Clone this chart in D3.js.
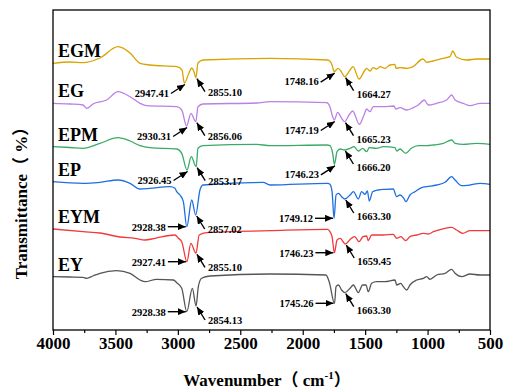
<!DOCTYPE html>
<html>
<head>
<meta charset="utf-8">
<script src="https://cdn.jsdelivr.net/npm/d3@7"></script>
<style>
  body { margin: 0; background: #fff; }
  svg text { font-family: "Liberation Serif", "Times New Roman", "Noto Sans CJK SC", serif; font-weight: bold; }
</style>
</head>
<body>
<script>
// FTIR spectra, [wavenumber cm-1, transmittance (a.u., offset)]
const egm = [[4000,266.7],[3864,268],[3760,267.3],[3624,272],[3479,283.3],[3383,277],[3303,266.7],[3223,265],[3007,263.3],[2967,260],[2947.41,247],[2911,257],[2889,262],[2871,258.3],[2855.10,252.3],[2839,267],[2799,270],[2262,271.7],[1798,270],[1765,265],[1748.16,258.3],[1717,261.7],[1688,257.7],[1664.27,253.3],[1621,260],[1597,263.3],[1549,251],[1501,260],[1488,261.7],[1461,259],[1437,262.3],[1407,261],[1381,263.3],[1341,261.7],[1301,265],[1261,265.7],[1253,261.7],[1221,262.3],[1167,261.7],[1117,263.3],[1037,271],[1007,267.7],[957,269],[877,271.7],[820,273.3],[799,279],[767,272.7],[687,270],[607,271],[500,271]]
const eg = [[4000,226.7],[3864,226],[3760,225],[3730,221.7],[3680,226],[3570,230],[3479,238.3],[3383,233.3],[3303,226.7],[3250,224.3],[3009,223.3],[2969,220],[2930.31,204],[2895,216.7],[2856.06,208.3],[2839,223.3],[2799,226],[2369,227],[2262,228.3],[1808,227.3],[1782,223.3],[1760,213.3],[1747.19,210],[1720,217.7],[1688,211.7],[1665.23,208.3],[1629,215],[1600,219],[1547,205.7],[1509,215],[1488,221],[1461,218.3],[1435,223.3],[1355,223.3],[1269,224],[1255,221],[1221,222.3],[1167,220],[1114,222.3],[1074,225],[1026,230],[994,225],[927,226.7],[847,230],[807,235],[780,230],[714,226.7],[660,224.3],[580,226.7],[500,226.7]]
const epm = [[4000,183.3],[3864,182.5],[3760,181.7],[3624,186.7],[3479,192.3],[3383,189],[3303,184.3],[3223,182.3],[3009,181],[2969,176.7],[2926.45,160],[2893,173.3],[2853.17,163.3],[2839,181.7],[2799,184.3],[2369,185.7],[2262,184.3],[1808,185],[1782,184.3],[1760,176.7],[1746.23,165.7],[1725,178.3],[1699,181],[1666.20,180],[1621,181.7],[1589,183.3],[1555,179],[1520,181.7],[1488,178.3],[1467,182.3],[1407,181.7],[1355,183.3],[1261,182.3],[1247,179],[1221,181],[1175,176.7],[1130,181.7],[1074,184.3],[1007,184.3],[953,185],[873,186.7],[807,190],[780,186.7],[714,185.7],[607,186.7],[500,185.7]]
const ep = [[4000,148.3],[3760,146.7],[3624,147.7],[3479,150],[3383,146.7],[3303,141],[3223,141.7],[3063,143.3],[3023,141.7],[3009,138.3],[2983,135],[2956,128.3],[2928.38,103.3],[2889,130],[2857.02,115],[2823,140],[2799,145],[2318,147.7],[2262,145],[1800,146.7],[1782,145.7],[1765,138.3],[1749.12,111.7],[1733,135],[1714,136.7],[1688,133.3],[1663.30,131],[1621,135],[1594,138.3],[1555,131],[1528,138.3],[1501,135.7],[1482,139],[1467,129],[1440,138.3],[1395,140],[1341,140.7],[1275,141],[1247,133.3],[1221,135],[1194,132.3],[1173,128.3],[1141,135],[1101,138.3],[1047,142.3],[1007,143.3],[927,145],[860,147.7],[807,153.3],[780,150],[727,144.3],[660,145],[580,146.7],[500,145.7]]
const eym = [[4000,101],[3760,98.3],[3624,97],[3463,93],[3343,91.7],[3263,90],[3183,91.7],[3023,95],[2996,91.7],[2969,88.3],[2927.41,68.3],[2896,86.7],[2855.10,76.7],[2829,95],[2770,97.3],[2262,99.3],[1800,100.7],[1782,98.3],[1765,93.3],[1746.23,77.3],[1725,90],[1699,91.7],[1677,88.3],[1659.45,86],[1610,91.7],[1584,93.3],[1549,88.3],[1517,93.3],[1488,94],[1475,89.3],[1448,95],[1355,95],[1275,95.7],[1247,91.7],[1215,93.3],[1175,89.3],[1141,93.3],[1087,95],[1034,96.7],[994,96],[953,98.3],[887,100.7],[807,102.7],[767,100],[719,96.7],[660,99.3],[500,99.3]]
const ey = [[4000,53.3],[3864,53],[3760,52.7],[3730,51.7],[3680,54],[3624,56.7],[3490,59.3],[3383,56.7],[3303,50],[3263,48.3],[3170,50.7],[3036,50],[3009,47.3],[2969,41.7],[2928.38,18.3],[2884,41.7],[2854.13,24],[2836,43.3],[2810,51.7],[2743,54],[2262,56],[1814,55],[1788,48.3],[1745.26,26.7],[1733,43.3],[1714,45],[1688,40],[1663.30,37.3],[1621,41.7],[1594,45],[1555,37.3],[1520,45],[1493,45],[1475,38.3],[1448,46.7],[1408,48.3],[1341,48.3],[1261,50],[1247,45],[1215,46.7],[1194,43.3],[1167,40],[1141,45],[1087,50],[1034,51.7],[1007,53.3],[981,50.7],[927,55],[860,56.7],[807,60.7],[780,56.7],[727,53.3],[660,56],[580,55],[500,55]]

const names = ['EGM', 'EG', 'EPM', 'EP', 'EYM', 'EY']
const spectra = [egm, eg, epm, ep, eym, ey]
const colors = ['#d9a300', '#bb7fe6', '#3aaa68', '#1f6fe0', '#f03a3a', '#555555']
// labelled peaks per sample: [C-H asym, C-H sym, C=O, amide]
const peaks = [
  [2947.41, 2855.10, 1748.16, 1664.27],
  [2930.31, 2856.06, 1747.19, 1665.23],
  [2926.45, 2853.17, 1746.23, 1666.20],
  [2928.38, 2857.02, 1749.12, 1663.30],
  [2927.41, 2855.10, 1746.23, 1659.45],
  [2928.38, 2854.13, 1745.26, 1663.30]
]
const xTicks = [4000, 3500, 3000, 2500, 2000, 1500, 1000, 500]

const width = 505, height = 391
const margin = {top: 10, right: 15, bottom: 61, left: 53}

const svg = d3.select('body').append('svg')
  .attr('width', width)
  .attr('height', height)

const x = d3.scaleLinear().domain([4000, 500]).range([margin.left, width - margin.right])
const y = d3.scaleLinear().domain([0, 320]).range([height - margin.bottom, margin.top])

svg.append('defs').append('marker')
  .attr('id', 'arr')
  .attr('markerUnits', 'userSpaceOnUse')
  .attr('markerWidth', 9).attr('markerHeight', 7)
  .attr('refX', 8).attr('refY', 3.5)
  .attr('orient', 'auto')
  .append('path').attr('d', 'M0,0 L8,3.5 L0,7 Z').attr('fill', '#000')

const line = d3.line()
  .x(d => x(d[0]))
  .y(d => y(d[1]))
  .curve(d3.curveMonotoneX)

svg.selectAll('.spec').data(spectra).enter().append('path')
  .attr('class', 'spec')
  .attr('d', line)
  .attr('fill', 'none')
  .attr('stroke', (d, i) => colors[i])
  .attr('stroke-width', 1.3)

// sample names above each trace
svg.selectAll('.name').data(names).enter().append('text')
  .attr('class', 'name')
  .attr('x', margin.left + 5)
  .attr('y', (d, i) => y(spectra[i][0][1]) - 6)
  .attr('font-size', 18)
  .text(d => d)

// peak annotations
const fmt = d3.format('.2f')
const ann = svg.append('g')
peaks.forEach((pk, si) => {
  pk.forEach((wn, k) => {
    const pt = spectra[si].reduce((a, b) => Math.abs(b[0] - wn) < Math.abs(a[0] - wn) ? b : a)
    const px = x(wn), py = y(pt[1])
    let tip, tail, tx, ty, anchor
    if (k % 2 === 1) {
      tip = [px + 1, py + 1]
      tail = [tip[0] + 8, tip[1] + 13]
      tx = tail[0] + 3; ty = tail[1] + (k === 3 ? 7 : 4); anchor = 'start'
    } else if (si < 3) {
      tip = [px + 0.5, py + 1.5]
      tail = [tip[0] - 14, tip[1] + 9]
      tx = tail[0] - 2; ty = tail[1] + 3; anchor = 'end'
    } else {
      tip = [px - 1, py]
      tail = [tip[0] - 18, py]
      tx = tail[0] - 2; ty = py + 4; anchor = 'end'
    }
    ann.append('line')
      .attr('x1', tail[0]).attr('y1', tail[1])
      .attr('x2', tip[0]).attr('y2', tip[1])
      .attr('stroke', '#000').attr('stroke-width', 1.4)
      .attr('marker-end', 'url(#arr)')
    ann.append('text')
      .attr('x', tx).attr('y', ty)
      .attr('text-anchor', anchor)
      .attr('font-size', 10.5)
      .text(fmt(wn))
  })
})

// axes
const bottom = height - margin.bottom
const xAxis = svg.append('g')
  .attr('transform', `translate(0,${bottom})`)
  .call(d3.axisBottom(x).tickValues(xTicks).tickSize(5).tickPadding(2).tickFormat(d3.format('d')))
xAxis.select('.domain').remove()
xAxis.selectAll('text').attr('font-size', 17).attr('fill', '#000')
  .style('font-family', '"Liberation Serif", serif').style('font-weight', 'bold')
xAxis.selectAll('line').attr('stroke-width', 1.2)

const minor = svg.append('g')
  .attr('transform', `translate(0,${bottom})`)
  .call(d3.axisBottom(x).tickValues(d3.range(750, 4000, 500)).tickSize(3).tickFormat(''))
minor.select('.domain').remove()
minor.selectAll('line').attr('stroke-width', 1.2)

svg.append('rect')
  .attr('x', margin.left).attr('y', margin.top)
  .attr('width', width - margin.left - margin.right)
  .attr('height', bottom - margin.top)
  .attr('fill', 'none').attr('stroke', '#000').attr('stroke-width', 1.3)

const xt = svg.append('text')
  .attr('x', 267).attr('y', 386)
  .attr('text-anchor', 'middle')
  .attr('font-size', 17)
xt.append('tspan').text('Wavenumber（ cm')
xt.append('tspan').attr('font-size', 11).attr('dy', -7).text('-1')
xt.append('tspan').attr('dy', 7).text('）')

svg.append('text')
  .attr('transform', 'translate(27,199) rotate(-90)')
  .attr('text-anchor', 'middle')
  .attr('font-size', 17)
  .text('Transmittance（ %）')
</script>
</body>
</html>
